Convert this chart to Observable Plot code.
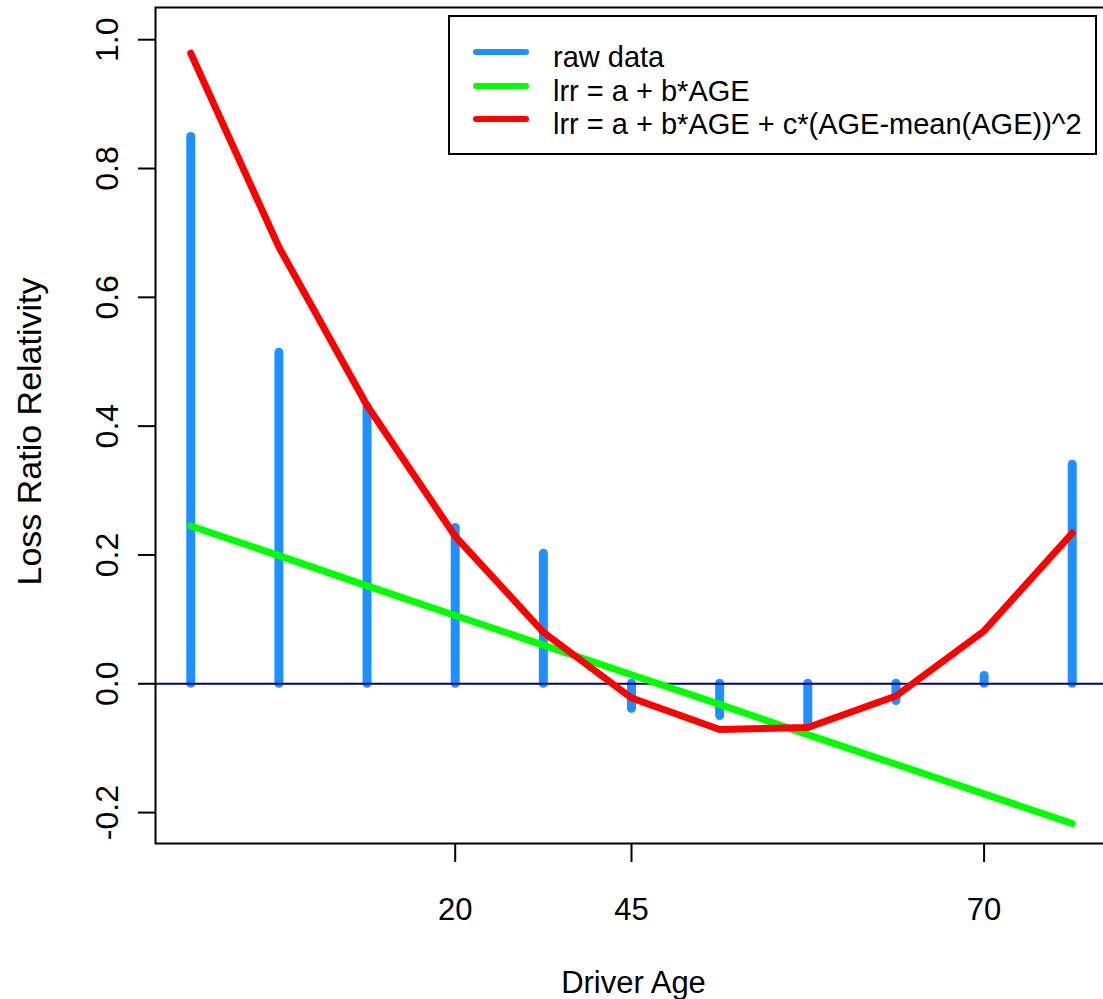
<!DOCTYPE html>
<html><head><meta charset="utf-8">
<script src="https://cdn.jsdelivr.net/npm/d3@7"></script>
<script src="https://cdn.jsdelivr.net/npm/@observablehq/plot@0.6"></script>
<style>
body{margin:0;background:#fff;}
#wrap{position:relative;width:1103px;height:999px;overflow:hidden;font-family:"Liberation Sans",Arial,sans-serif;}
#legend{position:absolute;left:448px;top:15px;}
</style></head><body><div id="wrap"></div>
<script>
const ageIndex = [1, 2, 3, 4, 5, 6, 7, 8, 9, 10, 11];
const rawData = [0.849, 0.514, 0.430, 0.242, 0.202, -0.039, -0.050, -0.065, -0.027, 0.012, 0.340];
const linearFit = [0.245, 0.199, 0.152, 0.106, 0.060, 0.014, -0.032, -0.079, -0.125, -0.171, -0.217];
const quadFit = [0.979, 0.678, 0.432, 0.229, 0.080, -0.022, -0.071, -0.068, -0.019, 0.082, 0.234];
const xTickPositions = [4, 6, 10];
const xTickLabels = ["20", "45", "70"];
const yTicks = [-0.2, 0.0, 0.2, 0.4, 0.6, 0.8, 1.0];
const seriesNames = ["raw data", "lrr = a + b*AGE", "lrr = a + b*AGE + c*(AGE-mean(AGE))^2"];
const seriesColors = ["#1E90FF", "#00FF00", "#FF0000"];
const xTitle = "Driver Age";
const yTitle = "Loss Ratio Relativity";

const rows = ageIndex.map((x, i) => ({x, raw: rawData[i], lin: linearFit[i], quad: quadFit[i]}));
const font = "'Liberation Sans', Arial, sans-serif";

const chart = Plot.plot({
  width: 1103, height: 999,
  marginLeft: 155, marginTop: 7, marginBottom: 156, marginRight: -4,
  style: {fontFamily: font, fontSize: "31px", background: "white", color: "black"},
  x: {domain: [0.6, 11.4]},
  y: {domain: [-0.248, 1.05]},
  marks: [
    Plot.ruleX(rows, {x: "x", y1: 0, y2: "raw", stroke: seriesColors[0], strokeWidth: 9, strokeLinecap: "round"}),
    Plot.ruleY([0], {stroke: "#000080", strokeWidth: 2}),
    Plot.line(rows, {x: "x", y: "lin", stroke: seriesColors[1], strokeWidth: 7, strokeLinecap: "round", strokeLinejoin: "round"}),
    Plot.line(rows, {x: "x", y: "quad", stroke: seriesColors[2], strokeWidth: 7, strokeLinecap: "round", strokeLinejoin: "round"}),
    Plot.frame({stroke: "black", strokeWidth: 2}),
    Plot.axisY(yTicks, {tickSize: 17, tickRotate: -90, tickPadding: 21, strokeWidth: 2, tickFormat: d => d.toFixed(1), label: null, fontSize: 32}),
    Plot.axisX(xTickPositions, {tickSize: 19, tickPadding: 35, strokeWidth: 2, tickFormat: d => xTickLabels[xTickPositions.indexOf(d)], label: null, fontSize: 31}),
    Plot.text([yTitle], {frameAnchor: "left", textAnchor: "middle", rotate: -90, dx: -115, dy: 6, lineAnchor: "bottom", fontSize: 34}),
    Plot.text([xTitle], {frameAnchor: "bottom", dx: 2, dy: 149, lineAnchor: "bottom", fontSize: 31})
  ]
});
const wrap = document.getElementById("wrap");
wrap.appendChild(chart);

// legend overlay
const lw = 649, lh = 140;
const legend = d3.select(wrap).append("svg").attr("id", "legend")
  .attr("width", lw).attr("height", lh)
  .style("font-family", font);
legend.append("rect").attr("x", 1).attr("y", 1).attr("width", lw - 2).attr("height", lh - 2)
  .attr("fill", "white").attr("stroke", "black").attr("stroke-width", 2);
const rowY = [37, 71, 104];
seriesNames.forEach((name, i) => {
  legend.append("line").attr("x1", 28).attr("x2", 78).attr("y1", rowY[i]).attr("y2", rowY[i])
    .attr("stroke", seriesColors[i]).attr("stroke-width", 6).attr("stroke-linecap", "round");
  legend.append("text").attr("x", 105).attr("y", rowY[i] + 15)
    .attr("font-size", 29).attr("fill", "black").text(name);
});
</script></body></html>
